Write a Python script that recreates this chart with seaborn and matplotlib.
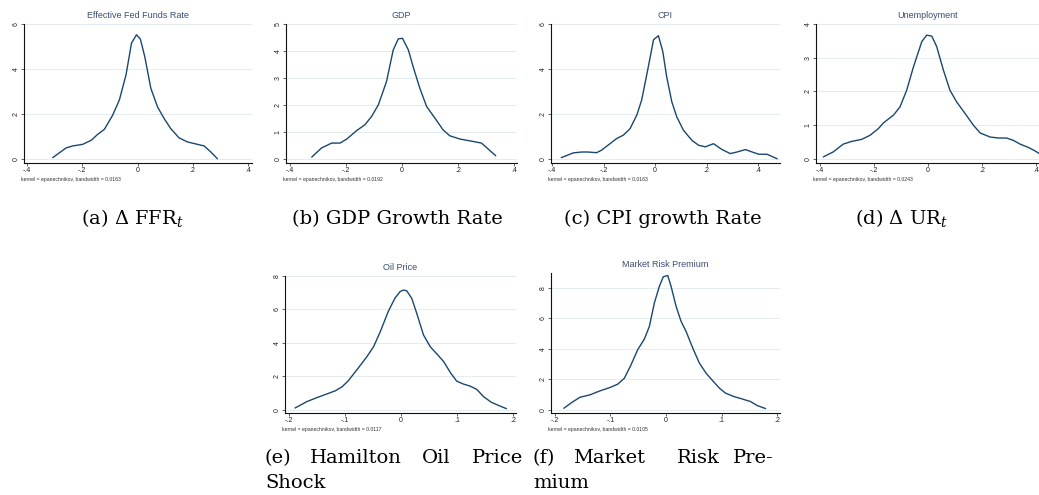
import numpy as np
import matplotlib
matplotlib.use("Agg")
import matplotlib.pyplot as plt
import seaborn as sns

# density curves (x = value, y = density)
ffr_x = [-0.307, -0.259, -0.235, -0.199, -0.168, -0.144, -0.120, -0.090, -0.066, -0.042, -0.022, -0.004,
         0.010, 0.026, 0.048, 0.072, 0.096, 0.120, 0.150, 0.180, 0.217, 0.241, 0.265, 0.289]
ffr_y = [0.06, 0.49, 0.58, 0.65, 0.83, 1.10, 1.32, 1.95, 2.62, 3.73, 5.15, 5.52,
         5.33, 4.55, 3.14, 2.32, 1.80, 1.35, 0.94, 0.76, 0.65, 0.58, 0.31, 0.01]

gdp_x = [-0.322, -0.287, -0.251, -0.221, -0.197, -0.162, -0.132, -0.108, -0.084, -0.055, -0.031, -0.013,
         0.002, 0.023, 0.040, 0.064, 0.088, 0.118, 0.147, 0.171, 0.207, 0.254, 0.284, 0.308, 0.335]
gdp_y = [0.07, 0.41, 0.59, 0.59, 0.74, 1.05, 1.27, 1.58, 2.01, 2.87, 4.04, 4.45,
         4.47, 4.04, 3.42, 2.62, 1.95, 1.51, 1.08, 0.86, 0.74, 0.65, 0.59, 0.37, 0.12]

cpi_x = [-0.364, -0.318, -0.286, -0.260, -0.227, -0.208, -0.175, -0.149, -0.123, -0.097, -0.071, -0.052,
         -0.026, -0.006, 0.013, 0.030, 0.045, 0.065, 0.084, 0.110, 0.143, 0.169, 0.195, 0.227, 0.260,
         0.292, 0.318, 0.351, 0.377, 0.403, 0.435, 0.474]
cpi_y = [0.06, 0.27, 0.31, 0.31, 0.28, 0.39, 0.68, 0.91, 1.06, 1.35, 1.95, 2.62,
         4.11, 5.30, 5.48, 4.78, 3.66, 2.54, 1.88, 1.28, 0.83, 0.61, 0.54, 0.68, 0.42,
         0.24, 0.31, 0.42, 0.31, 0.21, 0.21, 0.01]

ur_x = [-0.388, -0.351, -0.314, -0.283, -0.246, -0.215, -0.184, -0.165, -0.128, -0.104, -0.079, -0.054,
        -0.023, -0.005, 0.014, 0.032, 0.057, 0.081, 0.106, 0.137, 0.168, 0.193, 0.230, 0.261, 0.291,
        0.316, 0.341, 0.372, 0.396, 0.412]
ur_y = [0.06, 0.21, 0.44, 0.52, 0.58, 0.70, 0.90, 1.07, 1.30, 1.54, 2.04, 2.73,
        3.48, 3.67, 3.64, 3.33, 2.63, 2.04, 1.69, 1.35, 1.00, 0.77, 0.65, 0.62, 0.62,
        0.55, 0.44, 0.34, 0.24, 0.16]

oil_x = [-0.189, -0.168, -0.150, -0.132, -0.117, -0.105, -0.094, -0.079, -0.061, -0.049, -0.037, -0.023,
         -0.011, -0.002, 0.004, 0.010, 0.019, 0.028, 0.040, 0.052, 0.064, 0.076, 0.088, 0.099, 0.111,
         0.123, 0.135, 0.147, 0.161, 0.176, 0.188]
oil_y = [0.12, 0.50, 0.74, 0.96, 1.15, 1.39, 1.75, 2.39, 3.18, 3.78, 4.68, 5.87,
         6.67, 7.06, 7.16, 7.12, 6.67, 5.77, 4.48, 3.78, 3.34, 2.89, 2.23, 1.73, 1.55,
         1.43, 1.23, 0.80, 0.46, 0.24, 0.08]

mrp_x = [-0.184, -0.170, -0.155, -0.137, -0.119, -0.101, -0.087, -0.075, -0.063, -0.051, -0.039, -0.030,
         -0.021, -0.012, -0.005, 0.003, 0.009, 0.018, 0.027, 0.036, 0.048, 0.060, 0.072, 0.084, 0.096,
         0.107, 0.122, 0.137, 0.152, 0.164, 0.179]
mrp_y = [0.11, 0.48, 0.83, 0.99, 1.25, 1.47, 1.69, 2.08, 2.96, 3.95, 4.65, 5.48,
         7.02, 8.11, 8.73, 8.82, 8.11, 6.80, 5.81, 5.15, 4.06, 3.07, 2.41, 1.91, 1.43,
         1.10, 0.88, 0.72, 0.55, 0.29, 0.09]

titles = ["Effective Fed Funds Rate", "GDP", "CPI", "Unemployment", "Oil Price", "Market Risk Premium"]
bandwidths = ["0.0163", "0.0192", "0.0163", "0.0243", "0.0117", "0.0105"]
wide_ticks = [-0.4, -0.2, 0, 0.2, 0.4]
wide_labels = ["-.4", "-.2", "0", ".2", ".4"]
narrow_ticks = [-0.2, -0.1, 0, 0.1, 0.2]
narrow_labels = ["-.2", "-.1", "0", ".1", ".2"]

sns.set_theme(style="white")
plt.rcParams["font.family"] = ["Liberation Sans", "DejaVu Sans"]
plt.rcParams["mathtext.fontset"] = "dejavuserif"

W, H = 1039, 495
fig = plt.figure(figsize=(W / 100, H / 100), dpi=100)
fig.patch.set_facecolor("white")

# (curve, title index, pixel box left/right/top/bottom, xlim, ylim, xticks, xlabels, yticks)
panels = [
    (ffr_x, ffr_y, 0, (24, 252, 24, 163), (-0.411, 0.414), (-0.178, 6.0), wide_ticks, wide_labels, [0, 2, 4, 6]),
    (gdp_x, gdp_y, 1, (286, 517, 24, 163), (-0.414, 0.411), (-0.148, 5.0), wide_ticks, wide_labels, [0, 1, 2, 3, 4, 5]),
    (cpi_x, cpi_y, 2, (551, 780, 24, 163), (-0.404, 0.485), (-0.178, 6.0), wide_ticks, wide_labels, [0, 2, 4, 6]),
    (ur_x, ur_y, 3, (816, 1039, 24, 163), (-0.415, 0.411), (-0.12, 4.0), wide_ticks, wide_labels, [0, 1, 2, 3, 4]),
    (oil_x, oil_y, 4, (285, 516, 276, 413), (-0.207, 0.205), (-0.18, 8.0), narrow_ticks, narrow_labels, [0, 2, 4, 6, 8]),
    (mrp_x, mrp_y, 5, (551, 780, 273, 413), (-0.207, 0.205), (-0.2, 8.98), narrow_ticks, narrow_labels, [0, 2, 4, 6, 8]),
]

line_color = "#1a476f"
for xs, ys, k, box, xl, yl, xt, xtl, yt in panels:
    left, right, top, bottom = box
    ax = fig.add_axes([left / W, 1 - bottom / H, (right - left) / W, (bottom - top) / H])
    ax.set_facecolor("white")
    for g in yt:
        ax.axhline(g, color="#e3edef", lw=0.7, zorder=0)
    sns.lineplot(x=xs, y=ys, ax=ax, sort=False, color=line_color, linewidth=1.0)
    ax.set_xlim(*xl)
    ax.set_ylim(*yl)
    ax.set_xticks(xt)
    ax.set_xticklabels(xtl)
    ax.set_yticks(yt)
    ax.set_yticklabels([str(v) for v in yt], rotation=90, va="center")
    ax.tick_params(axis="both", labelsize=5, length=2, width=0.5, pad=1,
                   colors="#222222", bottom=True, left=True)
    for s in ["top", "right"]:
        ax.spines[s].set_visible(False)
    for s in ["left", "bottom"]:
        ax.spines[s].set_color("#111111")
        ax.spines[s].set_linewidth(0.8)
    ax.set_title(titles[k], fontsize=6.5, color="#3c4d73", pad=4)
    fig.text(left / W - 0.003, 1 - (bottom + 16) / H,
             "kernel = epanechnikov, bandwidth = " + bandwidths[k],
             fontsize=3.7, color="#333333", va="center", ha="left")

cap = dict(fontsize=14, family="DejaVu Serif", color="black", va="baseline")
row1 = 1 - 224 / H
fig.text(132 / W, row1, r"(a) Δ FFR$_t$", ha="center", **cap)
fig.text(397 / W, row1, "(b) GDP Growth Rate", ha="center", **cap)
fig.text(663 / W, row1, "(c) CPI growth Rate", ha="center", **cap)
fig.text(901 / W, row1, r"(d) Δ UR$_t$", ha="center", **cap)

row2 = 1 - 463 / H
row3 = 1 - 488 / H
for word, xp in [("(e)", 265), ("Hamilton", 310), ("Oil", 422), ("Price", 472),
                 ("(f)", 533), ("Market", 573), ("Risk", 677), ("Pre-", 733)]:
    fig.text(xp / W, row2, word, ha="left", **cap)
fig.text(265 / W, row3, "Shock", ha="left", **cap)
fig.text(533 / W, row3, "mium", ha="left", **cap)

fig.savefig("out.png", dpi=100, facecolor="white")
